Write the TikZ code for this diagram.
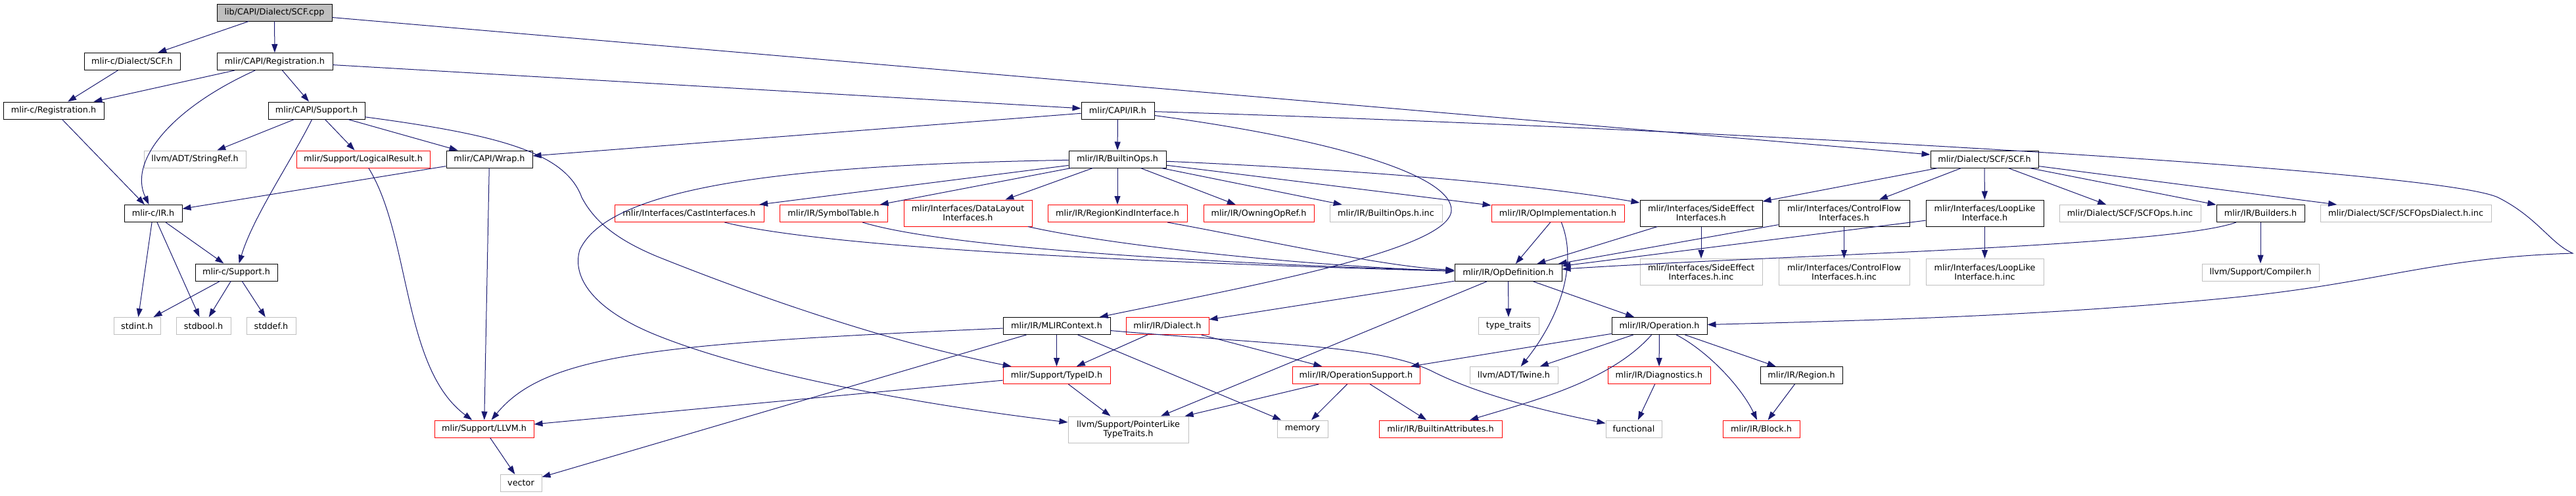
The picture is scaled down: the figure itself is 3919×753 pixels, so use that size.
\documentclass[tikz,border=0pt]{standalone}
\usepackage{fontspec}
\setmainfont{DejaVu Sans}
\usetikzlibrary{arrows.meta}
\definecolor{edgeblue}{HTML}{191970}
\definecolor{extgray}{HTML}{BFBFBF}
\definecolor{truncred}{HTML}{FF0000}
\begin{document}
\begin{tikzpicture}[
  x=1pt, y=-1pt,
  every node/.style={font=\fontsize{12.8}{14}\selectfont},
  file/.style={draw, fill=white, line width=1pt, align=center, inner sep=0pt, minimum height=26pt},
  hdr/.style={file, draw=black},
  redhdr/.style={file, draw=truncred},
  exthdr/.style={file, draw=extgray},
  roothdr/.style={file, draw=black, fill=extgray},
  tall/.style={minimum height=40pt},
  dep/.style={-{Triangle[length=13pt,width=9pt]}, edgeblue, line width=1pt}
]
\useasboundingbox (0,0) rectangle (3919,753);

\node[roothdr, minimum width=175pt] (root) at (417.5,19) {lib/CAPI/Dialect/SCF.cpp};
\node[hdr, minimum width=146pt] (cscf) at (201,93.5) {mlir-c/Dialect/SCF.h};
\node[hdr, minimum width=176pt] (capireg) at (418,93.5) {mlir/CAPI/Registration.h};
\node[hdr, minimum width=153pt] (creg) at (81.5,168) {mlir-c/Registration.h};
\node[hdr, minimum width=147pt] (capisup) at (481.5,168) {mlir/CAPI/Support.h};
\node[hdr, minimum width=111pt] (capiir) at (1700.5,168) {mlir/CAPI/IR.h};
\node[exthdr, minimum width=155pt] (strref) at (296.5,242) {llvm/ADT/StringRef.h};
\node[redhdr, minimum width=203pt] (logres) at (552.5,242) {mlir/Support/LogicalResult.h};
\node[hdr, minimum width=131pt] (wrap) at (744.5,242) {mlir/CAPI/Wrap.h};
\node[hdr, minimum width=148pt] (builtinops) at (1700,242) {mlir/IR/BuiltinOps.h};
\node[hdr, minimum width=164pt] (scfh) at (3019,242) {mlir/Dialect/SCF/SCF.h};
\node[hdr, minimum width=88pt] (cir) at (233,324.5) {mlir-c/IR.h};
\node[redhdr, minimum width=227pt] (castif) at (1048.5,324.5) {mlir/Interfaces/CastInterfaces.h};
\node[redhdr, minimum width=164pt] (symtab) at (1268,324.5) {mlir/IR/SymbolTable.h};
\node[redhdr, tall, minimum width=195pt] (datalayout) at (1472.5,324) {mlir/Interfaces/DataLayout\\Interfaces.h};
\node[redhdr, minimum width=212pt] (regionkind) at (1700,324.5) {mlir/IR/RegionKindInterface.h};
\node[redhdr, minimum width=168pt] (owning) at (1915,324.5) {mlir/IR/OwningOpRef.h};
\node[exthdr, minimum width=171pt] (opsinc) at (2108.5,324.5) {mlir/IR/BuiltinOps.h.inc};
\node[redhdr, minimum width=202pt] (opimpl) at (2370,324.5) {mlir/IR/OpImplementation.h};
\node[hdr, tall, minimum width=186pt] (sideeff) at (2588,324) {mlir/Interfaces/SideEffect\\Interfaces.h};
\node[hdr, tall, minimum width=199pt] (ctrlflow) at (2805.5,324) {mlir/Interfaces/ControlFlow\\Interfaces.h};
\node[hdr, tall, minimum width=179pt] (looplike) at (3019.5,324) {mlir/Interfaces/LoopLike\\Interface.h};
\node[exthdr, minimum width=215pt] (scfopsinc) at (3240.5,324.5) {mlir/Dialect/SCF/SCFOps.h.inc};
\node[hdr, minimum width=134pt] (builders) at (3439,324.5) {mlir/IR/Builders.h};
\node[exthdr, minimum width=260pt] (scfdialinc) at (3660,324.5) {mlir/Dialect/SCF/SCFOpsDialect.h.inc};
\node[hdr, minimum width=125pt] (csup) at (359.5,414) {mlir-c/Support.h};
\node[hdr, minimum width=163pt] (opdef) at (2294.5,414.5) {mlir/IR/OpDefinition.h};
\node[exthdr, tall, minimum width=186pt] (sideinc) at (2588,413.5) {mlir/Interfaces/SideEffect\\Interfaces.h.inc};
\node[exthdr, tall, minimum width=199pt] (ctrlinc) at (2805.5,413.5) {mlir/Interfaces/ControlFlow\\Interfaces.h.inc};
\node[exthdr, tall, minimum width=179pt] (loopinc) at (3019.5,413.5) {mlir/Interfaces/LoopLike\\Interface.h.inc};
\node[exthdr, minimum width=178pt] (compiler) at (3439,414) {llvm/Support/Compiler.h};
\node[exthdr, minimum width=71pt] (stdint) at (208.5,495.5) {stdint.h};
\node[exthdr, minimum width=83pt] (stdbool) at (309.5,495.5) {stdbool.h};
\node[exthdr, minimum width=75pt] (stddef) at (412.5,495.5) {stddef.h};
\node[hdr, minimum width=163pt] (mlirctx) at (1607.5,495.5) {mlir/IR/MLIRContext.h};
\node[redhdr, minimum width=126pt] (dialect) at (1776,495.5) {mlir/IR/Dialect.h};
\node[exthdr, minimum width=92pt] (typetr) at (2295,495.5) {type\_traits};
\node[hdr, minimum width=145pt] (operation) at (2524.5,495.5) {mlir/IR/Operation.h};
\node[redhdr, minimum width=163pt] (typeid) at (1607.5,570.5) {mlir/Support/TypeID.h};
\node[redhdr, minimum width=194pt] (opsupport) at (2063,570.5) {mlir/IR/OperationSupport.h};
\node[exthdr, minimum width=134pt] (twine) at (2303,570.5) {llvm/ADT/Twine.h};
\node[redhdr, minimum width=156pt] (diag) at (2524,570.5) {mlir/IR/Diagnostics.h};
\node[hdr, minimum width=125pt] (region) at (2740.5,570.5) {mlir/IR/Region.h};
\node[redhdr, minimum width=151pt] (llvmh) at (736.5,652) {mlir/Support/LLVM.h};
\node[exthdr, tall, minimum width=183pt] (ptrlike) at (1716.5,653) {llvm/Support/PointerLike\\TypeTraits.h};
\node[exthdr, minimum width=77pt] (memory) at (1981.5,652) {memory};
\node[redhdr, minimum width=187pt] (battr) at (2191.5,652) {mlir/IR/BuiltinAttributes.h};
\node[exthdr, minimum width=85pt] (functional) at (2485.5,652) {functional};
\node[redhdr, minimum width=117pt] (block) at (2679.5,652) {mlir/IR/Block.h};
\node[exthdr, minimum width=63pt] (vector) at (792.5,734.5) {vector};

\draw[dep] (root) -- (cscf);
\draw[dep] (root) -- (capireg);
\draw[dep] (root) -- (scfh);
\draw[dep] (cscf) -- (creg);
\draw[dep] (capireg) -- (creg);
\draw[dep] (capireg) .. controls (260,165) and (195,245) .. (cir);
\draw[dep] (capireg) -- (capisup);
\draw[dep] (capireg) -- (capiir);
\draw[dep] (creg) -- (cir);
\draw[dep] (capisup) -- (strref);
\draw[dep] (capisup) -- (logres);
\draw[dep] (capisup) -- (wrap);
\draw[dep] (capisup) .. controls (440,250) and (385,330) .. (csup);
\draw[dep] (capisup) .. controls (760,205) and (860,232) .. (885,300) .. controls (905,338) and (940,365) .. (1000,390)
  .. controls (1150,450) and (1350,520) .. (typeid);
\draw[dep] (logres) .. controls (625,360) and (612,560) .. (llvmh);
\draw[dep] (wrap) -- (cir);
\draw[dep] (wrap) -- (llvmh);
\draw[dep] (capiir) -- (wrap);
\draw[dep] (capiir) -- (builtinops);
\draw[dep] (capiir) .. controls (2050,215) and (2210,270) .. (2208,320) .. controls (2205,380) and (1900,435) .. (mlirctx);
\draw[dep] (capiir) .. controls (2500,192) and (3700,255) .. (3800,300) .. controls (3860,330) and (3880,370) .. (3914,385)
  .. controls (3700,392) and (3620,430) .. (3400,452) .. controls (3100,482) and (2800,488) .. (operation);
\draw[dep] (builtinops) .. controls (1250,250) and (930,275) .. (882,380) .. controls (870,420) and (900,470) .. (1000,510)
  .. controls (1150,570) and (1400,615) .. (ptrlike);
\draw[dep] (builtinops) -- (castif);
\draw[dep] (builtinops) -- (symtab);
\draw[dep] (builtinops) -- (datalayout);
\draw[dep] (builtinops) -- (regionkind);
\draw[dep] (builtinops) -- (owning);
\draw[dep] (builtinops) -- (opsinc);
\draw[dep] (builtinops) -- (opimpl);
\draw[dep] (builtinops) .. controls (2000,255) and (2300,275) .. (sideeff);
\draw[dep] (scfh) -- (sideeff);
\draw[dep] (scfh) -- (ctrlflow);
\draw[dep] (scfh) -- (looplike);
\draw[dep] (scfh) -- (scfopsinc);
\draw[dep] (scfh) -- (builders);
\draw[dep] (scfh) -- (scfdialinc);
\draw[dep] (cir) -- (stdint);
\draw[dep] (cir) -- (stdbool);
\draw[dep] (cir) -- (csup);
\draw[dep] (csup) -- (stdint);
\draw[dep] (csup) -- (stdbool);
\draw[dep] (csup) -- (stddef);
\draw[dep] (castif) .. controls (1250,375) and (1700,398) .. (opdef);
\draw[dep] (symtab) .. controls (1450,380) and (1900,402) .. (opdef);
\draw[dep] (datalayout) .. controls (1700,375) and (2000,405) .. (opdef);
\draw[dep] (regionkind) .. controls (1900,360) and (2100,405) .. (opdef);
\draw[dep] (opimpl) -- (opdef);
\draw[dep] (opimpl) .. controls (2400,400) and (2375,480) .. (twine);
\draw[dep] (sideeff) -- (opdef);
\draw[dep] (sideeff) -- (sideinc);
\draw[dep] (ctrlflow) -- (opdef);
\draw[dep] (ctrlflow) -- (ctrlinc);
\draw[dep] (looplike) -- (opdef);
\draw[dep] (looplike) -- (loopinc);
\draw[dep] (builders) .. controls (3300,375) and (2700,388) .. (opdef);
\draw[dep] (builders) -- (compiler);
\draw[dep] (opdef) -- (dialect);
\draw[dep] (opdef) -- (ptrlike);
\draw[dep] (opdef) -- (typetr);
\draw[dep] (opdef) -- (operation);
\draw[dep] (dialect) -- (typeid);
\draw[dep] (dialect) -- (opsupport);
\draw[dep] (mlirctx) -- (typeid);
\draw[dep] (mlirctx) -- (memory);
\draw[dep] (mlirctx) .. controls (1000,522) and (830,538) .. (llvmh);
\draw[dep] (mlirctx) -- (vector);
\draw[dep] (mlirctx) .. controls (1950,525) and (2100,525) .. (2180,565) .. controls (2250,600) and (2350,625) .. (functional);
\draw[dep] (typeid) -- (ptrlike);
\draw[dep] (typeid) -- (llvmh);
\draw[dep] (opsupport) -- (ptrlike);
\draw[dep] (opsupport) -- (memory);
\draw[dep] (opsupport) -- (battr);
\draw[dep] (operation) -- (opsupport);
\draw[dep] (operation) -- (twine);
\draw[dep] (operation) .. controls (2450,580) and (2330,610) .. (battr);
\draw[dep] (operation) -- (diag);
\draw[dep] (operation) .. controls (2600,535) and (2650,590) .. (block);
\draw[dep] (operation) -- (region);
\draw[dep] (diag) -- (functional);
\draw[dep] (region) -- (block);
\draw[dep] (llvmh) -- (vector);
\end{tikzpicture}
\end{document}
